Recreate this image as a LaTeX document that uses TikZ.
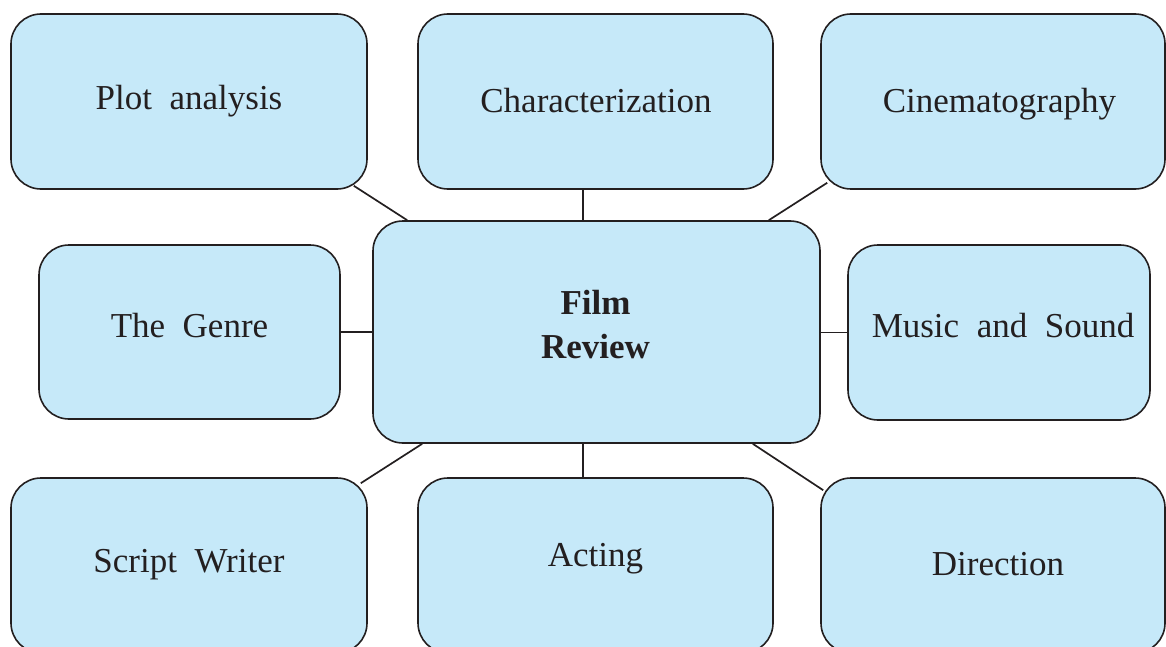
\documentclass[tikz,border=0pt]{standalone}
\usepackage{fontspec}
\setmainfont{Liberation Serif}
\usetikzlibrary{calc}
\definecolor{boxfill}{RGB}{198,233,249}
\definecolor{boxline}{RGB}{35,31,32}
\tikzset{
  mapbox/.style={draw=boxline, fill=boxfill, line width=1.6pt, rounded corners=30pt, inner sep=0pt},
  maptext/.style={anchor=base, inner sep=0pt, text=boxline, font=\fontsize{35}{44}\selectfont},
  link/.style={draw=boxline, line width=1.7pt}
}
\begin{document}
\begin{tikzpicture}[x=1pt,y=-1pt]
\useasboundingbox (0,0) rectangle (1166,647);
% boxes
\node[mapbox, minimum width=356pt, minimum height=175pt] (plot) at (189,101.5) {};
\node[mapbox, minimum width=355pt, minimum height=175pt] (char) at (595.5,101.5) {};
\node[mapbox, minimum width=344pt, minimum height=175pt] (cine) at (993,101.5) {};
\node[mapbox, minimum width=301pt, minimum height=174pt] (genre) at (189.5,332) {};
\node[mapbox, minimum width=447pt, minimum height=222pt] (film) at (596.5,332) {};
\node[mapbox, minimum width=302pt, minimum height=175pt] (music) at (999,332.5) {};
\node[mapbox, minimum width=356pt, minimum height=175pt] (script) at (189,565.5) {};
\node[mapbox, minimum width=355pt, minimum height=175pt] (acting) at (595.5,565.5) {};
\node[mapbox, minimum width=344pt, minimum height=175pt] (direction) at (993,565.5) {};
% texts
\node[maptext] (tplot) at (189,110) {Plot~~analysis};
\node[maptext] (tchar) at (596,113) {Characterization};
\node[maptext] (tcine) at (999.5,113) {Cinematography};
\node[maptext] (tgenre) at (189.5,337) {The~~Genre};
\node[maptext] (tmusic) at (1003,337) {Music~~and~~Sound};
\node[maptext, font=\fontsize{35}{44}\selectfont\bfseries] (tfilm) at (595.5,314) {Film};
\node[maptext, font=\fontsize{35}{44}\selectfont\bfseries] (treview) at (595.5,358) {Review};
\node[maptext] (tscript) at (189,572) {Script~~Writer};
\node[maptext] (tacting) at (595.5,566) {Acting};
\node[maptext] (tdirection) at (998,575) {Direction};
% connectors
\draw[link] ($(plot.south east)+(-14,-4)$) -- ($(film.north west)+(35,0)$);
\draw[link] ($(char.south)+(-12.5,0)$) -- ($(film.north -| char.south)+(-12.5,0)$);
\draw[link] ($(cine.south west)+(7,-7)$) -- ($(film.north east)+(-52,0)$);
\draw[link] (genre.east) -- (genre.east -| film.west);
\draw[link] (music.west) -- (music.west -| film.east);
\draw[link] ($(film.south west)+(50,0)$) -- ($(script.north east)+(-7,6)$);
\draw[link] ($(film.south -| acting.north)+(-12.5,0)$) -- ($(acting.north)+(-12.5,0)$);
\draw[link] ($(film.south east)+(-68,0)$) -- ($(direction.north west)+(3,13)$);
\end{tikzpicture}
\end{document}
